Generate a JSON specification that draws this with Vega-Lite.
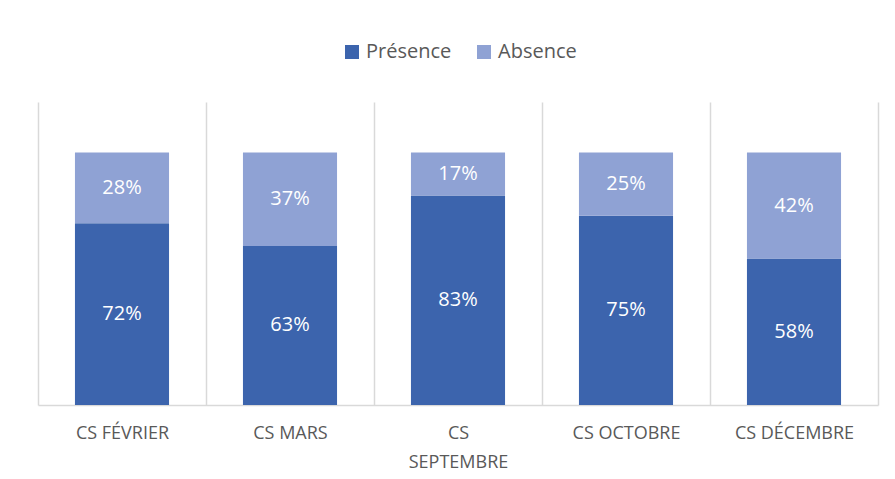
{
  "$schema": "https://vega.github.io/schema/vega-lite/v6.json",
  "width": 840,
  "height": 303,
  "autosize": {"type": "none"},
  "padding": {"left": 38, "top": 102, "right": 17, "bottom": 74},
  "background": "white",
  "config": {
    "view": {"stroke": null},
    "font": "Open Sans"
  },
  "data": {
    "values": [
      {"cs": "CS FÉVRIER", "statut": "Présence", "k": 1, "v": 0.72},
      {"cs": "CS FÉVRIER", "statut": "Absence", "k": 2, "v": 0.28},
      {"cs": "CS MARS", "statut": "Présence", "k": 1, "v": 0.63},
      {"cs": "CS MARS", "statut": "Absence", "k": 2, "v": 0.37},
      {"cs": "CS SEPTEMBRE", "statut": "Présence", "k": 1, "v": 0.83},
      {"cs": "CS SEPTEMBRE", "statut": "Absence", "k": 2, "v": 0.17},
      {"cs": "CS OCTOBRE", "statut": "Présence", "k": 1, "v": 0.75},
      {"cs": "CS OCTOBRE", "statut": "Absence", "k": 2, "v": 0.25},
      {"cs": "CS DÉCEMBRE", "statut": "Présence", "k": 1, "v": 0.58},
      {"cs": "CS DÉCEMBRE", "statut": "Absence", "k": 2, "v": 0.42}
    ]
  },
  "encoding": {
    "x": {
      "field": "cs",
      "type": "nominal",
      "sort": null,
      "scale": {"paddingInner": 0, "paddingOuter": 0},
      "axis": {
        "title": null,
        "labelAngle": 0,
        "ticks": false,
        "grid": true,
        "tickBand": "extent",
        "gridColor": "#d9d9d9",
        "gridWidth": 1.5,
        "domainColor": "#d9d9d9",
        "domainWidth": 1.5,
        "labelColor": "#595959",
        "labelFontSize": 18,
        "labelFont": "Open Sans",
        "labelPadding": 19,
        "labelLineHeight": 29,
        "labelBaseline": "top",
        "labelExpr": "datum.value == 'CS SEPTEMBRE' ? ['CS', 'SEPTEMBRE'] : datum.value"
      }
    },
    "y": {
      "field": "v",
      "type": "quantitative",
      "stack": "zero",
      "scale": {"domain": [0, 1.2]},
      "axis": null
    },
    "order": {"field": "k", "type": "quantitative"}
  },
  "layer": [
    {
      "mark": {"type": "bar", "width": {"band": 0.56}},
      "encoding": {
        "color": {
          "field": "statut",
          "type": "nominal",
          "sort": ["Présence", "Absence"],
          "scale": {"domain": ["Présence", "Absence"], "range": ["#3c64ad", "#8fa2d4"]},
          "legend": {
            "title": null,
            "orient": "none",
            "direction": "horizontal",
            "legendX": 304,
            "legendY": -60,
            "symbolType": "square",
            "symbolSize": 196,
            "symbolStrokeWidth": 0,
            "labelFontSize": 20,
            "labelColor": "#595959",
            "labelFont": "Open Sans",
            "labelOffset": 4,
            "columnPadding": 22
          }
        }
      }
    },
    {
      "mark": {"type": "text", "color": "white", "fontSize": 20, "font": "Open Sans", "baseline": "middle"},
      "encoding": {
        "y": {
          "field": "v",
          "type": "quantitative",
          "stack": "zero",
          "bandPosition": 0.5
        },
        "text": {"field": "v", "type": "quantitative", "format": ".0%"}
      }
    }
  ]
}
